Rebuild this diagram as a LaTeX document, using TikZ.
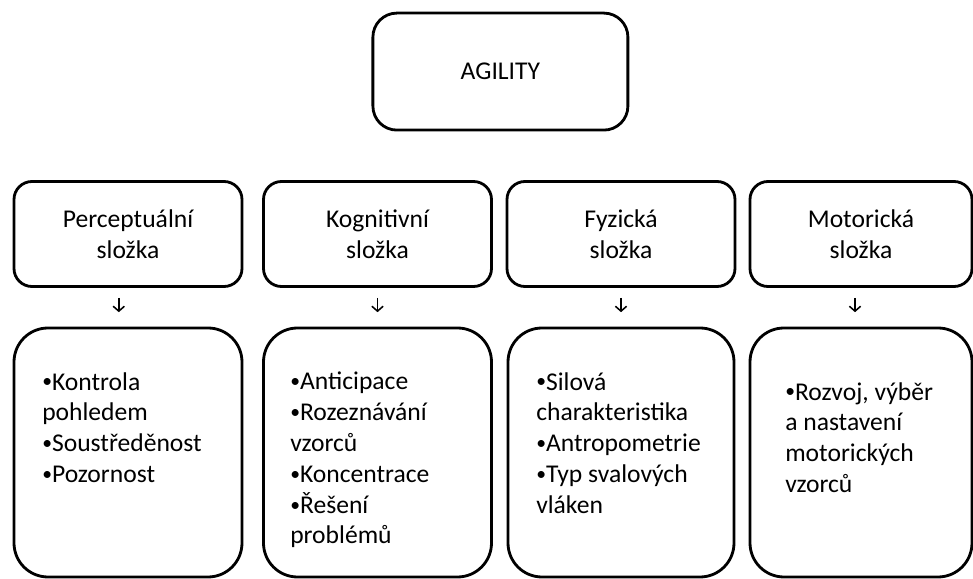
\documentclass[tikz,border=0pt]{standalone}
\usepackage{fontspec}
\setmainfont{Carlito}
\usetikzlibrary{arrows.meta}
\newcommand{\boxfont}{\fontsize{18.2pt}{21.9pt}\selectfont}
\newcommand{\bul}{\raisebox{0.08em}{\fontsize{14pt}{14pt}\selectfont•}}
\tikzstyle{topbox} = [rectangle, rounded corners=0.6cm,
                      minimum width=6.375cm, minimum height=2.925cm,
                      text centered, draw=black, line width=2pt]
\tikzstyle{partbox} = [rectangle, rounded corners=0.45cm,
                       minimum width=5.7cm, minimum height=2.625cm,
                       align=center, draw=black, line width=2pt]
\tikzstyle{listbox} = [rectangle, rounded corners=0.85cm,
                       minimum width=5.7cm, minimum height=6.225cm,
                       draw=black, line width=2pt]
\tikzstyle{listtext} = [anchor=north west, align=left, inner sep=0pt]
\tikzstyle{arrow} = [line width=1.1pt, -{Straight Barb[length=3.5pt,width=8pt]},
                     shorten <=0.25cm, shorten >=0.36cm]

\begin{document}
\begin{tikzpicture}[every node/.style={font=\boxfont}]
        \useasboundingbox (0,0) rectangle (24.325,-14.475);

        \node at (12.51,-1.79)(agility) [topbox] {AGILITY};

        %Components
        \node at (3.2,-5.85)(perc) [partbox] {Perceptuální\\složka};
        \node at (9.4375,-5.85)(kogn) [partbox] {Kognitivní\\složka};
        \node at (15.525,-5.85)(fyz) [partbox] {Fyzická\\složka};
        \node at (21.525,-5.85)(motor) [partbox, minimum width=5.55cm] {Motorická\\složka};

        %Lists
        \node at (3.2,-11.3125)(percList) [listbox] {};
        \node at (9.4375,-11.3125)(kognList) [listbox] {};
        \node at (15.525,-11.3125)(fyzList) [listbox, minimum width=5.65cm] {};
        \node at (21.525,-11.3125)(motorList) [listbox, minimum width=5.55cm] {};

        \node at (1.05,-9.3)(percText) [listtext] {\bul Kontrola\\pohledem\\\bul Soustředěnost\\\bul Pozornost};
        \node at (7.25,-9.3)(kognText) [listtext] {\bul Anticipace\\\bul Rozeznávání\\vzorců\\\bul Koncentrace\\\bul Řešení\\problémů};
        \node at (13.4,-9.3)(fyzText) [listtext] {\bul Silová\\charakteristika\\\bul Antropometrie\\\bul Typ svalových\\vláken};
        \node at (19.625,-9.55)(motorText) [listtext] {\bul Rozvoj, výběr\\a nastavení\\motorických\\vzorců};

        %Arrows to lists
        \draw [arrow] ([xshift=-0.23cm]perc.south) -- ([xshift=-0.23cm]percList.north);
        \draw [arrow] (kogn) -- (kognList);
        \draw [arrow] (fyz) -- (fyzList);
        \draw [arrow] ([xshift=-0.15cm]motor.south) -- ([xshift=-0.15cm]motorList.north);

\end{tikzpicture}
\end{document}
